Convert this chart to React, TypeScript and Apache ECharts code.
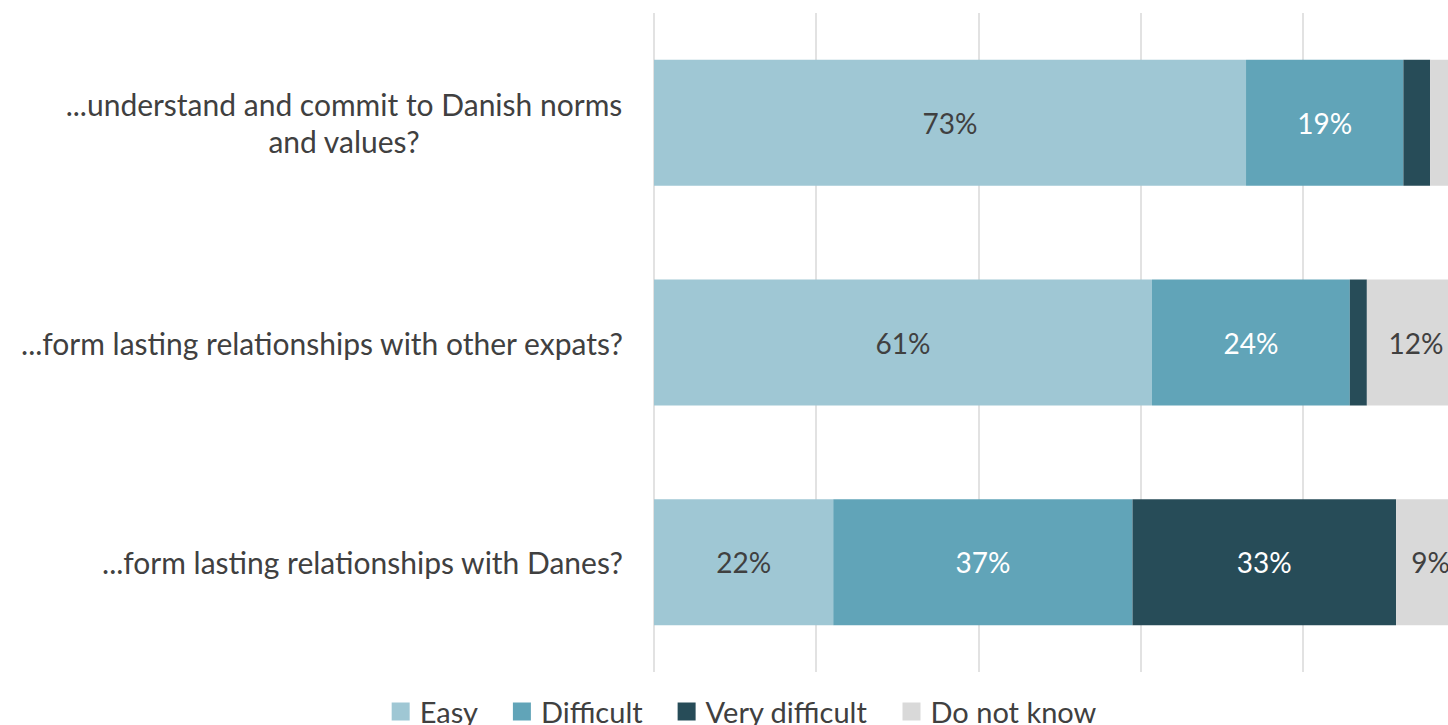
import React, { useEffect, useRef } from "react";
import * as echarts from "echarts";

const categories = [
  "...understand and commit to Danish norms\nand values?",
  "...form lasting relationships with other expats?",
  "...form lasting relationships with Danes?",
];
const seriesNames = ["Easy", "Difficult", "Very difficult", "Do not know"];
const easy = [73.0, 61.4, 22.1];
const difficult = [19.4, 24.4, 36.9];
const veryDifficult = [3.3, 2.1, 32.5];
const doNotKnow = [4.3, 12.1, 8.5];

const colors = ["#9FC7D4", "#61A4B8", "#274C58", "#D9D9D9"];
const labelColors = ["#404040", "#FFFFFF", "#FFFFFF", "#404040"];
const FONT = "Lato, 'Noto Sans', sans-serif";
const W = 1488;
const H = 725;

export default function App() {
  const ref = useRef<HTMLDivElement>(null);
  useEffect(() => {
    if (!ref.current) return;
    const chart = echarts.init(ref.current, undefined, { renderer: "svg" });
    const values = [easy, difficult, veryDifficult, doNotKnow];
    chart.setOption({
      animation: false,
      textStyle: { fontFamily: FONT },
      grid: { left: 654, right: W - 1465, top: 13, bottom: H - 672, containLabel: false },
      legend: {
        data: seriesNames,
        left: "center",
        top: 692,
        icon: "rect",
        itemWidth: 18,
        itemHeight: 18,
        itemGap: 35,
        textStyle: { fontSize: 29, color: "#404040", fontFamily: FONT, padding: [0, 0, 0, 5] },
      },
      xAxis: {
        type: "value",
        min: 0,
        max: 100,
        interval: 20,
        axisLabel: { show: false },
        axisLine: { show: false },
        axisTick: { show: false },
        splitLine: { show: true, lineStyle: { color: "#D9D9D9", width: 1.5 } },
      },
      yAxis: {
        type: "category",
        data: categories,
        inverse: true,
        axisLine: { show: false },
        axisTick: { show: false },
        axisLabel: {
          margin: 31,
          fontSize: 30,
          color: "#404040",
          fontFamily: FONT,
          lineHeight: 37,
          formatter: (v: string) => {
            if (v.indexOf("\n") >= 0) {
              return v
                .split("\n")
                .map((s) => "{w|" + s + "}")
                .join("\n");
            }
            return v;
          },
          rich: {
            w: {
              width: 558,
              align: "center",
              fontSize: 30,
              lineHeight: 37,
              color: "#404040",
              fontFamily: FONT,
            },
          },
        },
      },
      series: seriesNames.map((name, i) => ({
        name,
        type: "bar",
        stack: "total",
        barWidth: 126,
        data: values[i],
        itemStyle: { color: colors[i] },
        label: {
          show: true,
          position: "inside",
          fontSize: 28,
          fontFamily: FONT,
          color: labelColors[i],
          formatter: (p: any) => (p.value >= 5 ? Math.round(p.value) + "%" : ""),
        },
      })),
    });
    return () => chart.dispose();
  }, []);
  return (
    <div
      style={{
        position: "fixed",
        left: 0,
        top: 0,
        width: 1448,
        height: H,
        overflow: "hidden",
        background: "#ffffff",
      }}
    >
      <div ref={ref} style={{ width: W, height: H }} />
    </div>
  );
}
